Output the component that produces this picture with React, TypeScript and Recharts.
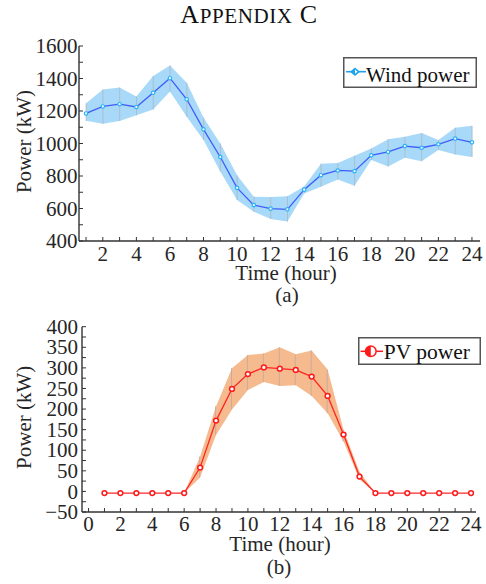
import React from 'react';
import { ComposedChart, Area, Line, Bar, XAxis, YAxis, Legend } from 'recharts';

// ---------- data ----------
const hours = [1, 2, 3, 4, 5, 6, 7, 8, 9, 10, 11, 12, 13, 14, 15, 16, 17, 18, 19, 20, 21, 22, 23, 24];
const windMean = [1185, 1228, 1242, 1225, 1312, 1402, 1272, 1087, 917, 727, 621, 599, 595, 716, 805, 834, 830, 927, 948, 984, 974, 995, 1030, 1007];
const windLow = [1140, 1122, 1138, 1174, 1210, 1320, 1165, 1021, 828, 653, 580, 535, 520, 692, 734, 778, 740, 899, 858, 912, 891, 960, 932, 917];
const windHigh = [1248, 1332, 1344, 1290, 1416, 1480, 1374, 1160, 1000, 805, 672, 671, 676, 736, 876, 880, 925, 970, 1026, 1042, 1064, 1022, 1097, 1110];

const pvMean = [-4, -4, -4, -4, -4, -4, 58, 172, 249, 285, 301, 298, 295, 279, 232, 138, 36, -4, -4, -4, -4, -4, -4, -4];
const pvLow = [-4, -4, -4, -4, -4, -4, 34, 137, 199, 246, 266, 256, 258, 232, 190, 121, 29, -4, -4, -4, -4, -4, -4, -4];
const pvHigh = [-4, -4, -4, -4, -4, -4, 85, 207, 299, 331, 335, 350, 333, 342, 296, 150, 48, -4, -4, -4, -4, -4, -4, -4];

const windYTicks = [400, 500, 600, 700, 800, 900, 1000, 1100, 1200, 1300, 1400, 1500, 1600];
const windXTicks = hours;
const pvYTicks = [-50, -25, 0, 25, 50, 75, 100, 125, 150, 175, 200, 225, 250, 275, 300, 325, 350, 375, 400];
const pvXTicks = [0, 1, 2, 3, 4, 5, 6, 7, 8, 9, 10, 11, 12, 13, 14, 15, 16, 17, 18, 19, 20, 21, 22, 23, 24];

const windData = hours.map((h, i) => ({ hour: h, mean: windMean[i], band: [windLow[i], windHigh[i]] }));
const pvData = hours.map((h, i) => ({ hour: h, mean: pvMean[i], band: [pvLow[i], pvHigh[i]] }));

// ---------- styles ----------
const FONT = "'Liberation Serif', 'Times New Roman', serif";
const TEXT = '#262626';
const AXIS = '#333333';
const FS = 21;

const fmt = (v: number) => (v < 0 ? '\u2212' + Math.abs(v) : String(v));

const YTick = (props: any) => {
  const { x, y, payload, every, gap } = props;
  const v = payload.value;
  const ax = x + gap;
  const show = Math.abs(v % every) < 1e-6;
  return (
    <g>
      <line x1={ax} x2={ax + 4} y1={y} y2={y} stroke={AXIS} strokeWidth={1} />
      {show && (
        <text x={x} y={y} dy="0.34em" textAnchor="end" fontFamily={FONT} fontSize={FS} fill={TEXT}>
          {fmt(v)}
        </text>
      )}
    </g>
  );
};

const XTick = (props: any) => {
  const { x, y, payload, every, gap } = props;
  const v = payload.value;
  const ay = y - gap;
  const show = Math.abs(v % every) < 1e-6;
  return (
    <g>
      <line x1={x} x2={x} y1={ay} y2={ay - 4} stroke={AXIS} strokeWidth={1} />
      {show && (
        <text x={x} y={y} dy="0.71em" textAnchor="middle" fontFamily={FONT} fontSize={FS} fill={TEXT}>
          {fmt(v)}
        </text>
      )}
    </g>
  );
};

const makeXLabel = (text: string, dx: number, dy: number) => (p: any) => {
  const vb = p.viewBox || { x: 0, y: 0, width: 0, height: 0 };
  return (
    <text x={vb.x + vb.width / 2 + dx} y={vb.y + dy} textAnchor="middle" fontFamily={FONT} fontSize={FS} fill={TEXT}>
      {text}
    </text>
  );
};

const makeYLabel = (text: string, bx: number, dy: number) => (p: any) => {
  const vb = p.viewBox || { x: 0, y: 0, width: 0, height: 0 };
  const cx = vb.x + bx;
  const cy = vb.y + vb.height / 2 + dy;
  return (
    <text x={cx} y={cy} transform={`rotate(-90, ${cx}, ${cy})`} textAnchor="middle" fontFamily={FONT} fontSize={FS} fill={TEXT}>
      {text}
    </text>
  );
};

const WindLegend = () => (
  <svg width={134} height={31} style={{ display: 'block' }}>
    <rect x={0.75} y={0.75} width={132.5} height={29.5} fill="#ffffff" stroke="#555555" strokeWidth={1.5} />
    <line x1={3} x2={23} y1={14.7} y2={14.7} stroke="#1ea2f0" strokeWidth={1.6} />
    <polygon points="7,14.7 12,10.5 17,14.7 12,18.9" fill="#1ea2f0" />
    <polygon points="12,12.6 14.5,14.7 12,16.8" fill="#ffffff" />
    <text x={23} y={24.7} fontFamily={FONT} fontSize={FS} fill="#111111">Wind power</text>
  </svg>
);

const PVLegend = () => (
  <svg width={123} height={28} style={{ display: 'block' }}>
    <rect x={0.75} y={0.75} width={121.5} height={26.5} fill="#ffffff" stroke="#555555" strokeWidth={1.5} />
    <line x1={2.5} x2={25} y1={14.3} y2={14.3} stroke="#ff1a1a" strokeWidth={1.5} />
    <circle cx={12.8} cy={14.3} r={5.3} fill="#ffffff" stroke="#ff1a1a" strokeWidth={1.5} />
    <path d="M12.8,9 A5.3,5.3 0 0 0 12.8,19.6 Z" fill="#ff1a1a" />
    <text x={25.8} y={21.6} fontFamily={FONT} fontSize={21.5} fill="#111111">PV power</text>
  </svg>
);

export default function App() {
  return (
    <div style={{ position: 'absolute', left: 0, top: 0, width: 486, height: 584, background: '#ffffff' }}>
      <div style={{ position: 'absolute', left: 0, top: 0 }}>
        <ComposedChart width={486} height={300} data={windData} margin={{ top: 46, right: 6, left: 0, bottom: 0 }}>
          <XAxis
            type="number"
            dataKey="hour"
            domain={[0.58, 24.48]}
            allowDataOverflow
            ticks={windXTicks}
            interval={0}
            tickSize={0}
            tickMargin={5.5}
            tick={<XTick every={2} gap={5.5} />}
            axisLine={{ stroke: AXIS, strokeWidth: 1.4 }}
            height={59}
            label={makeXLabel('Time (hour)', 6.5, 39)}
          />
          <YAxis
            type="number"
            domain={[400, 1600]}
            allowDataOverflow
            ticks={windYTicks}
            interval={0}
            tickSize={0}
            tickMargin={1.5}
            tick={<YTick every={200} gap={1.5} />}
            axisLine={{ stroke: AXIS, strokeWidth: 1.4 }}
            width={79}
            label={makeYLabel('Power (kW)', 31, -2)}
          />
          <Area dataKey="band" type="linear" stroke="none" fill="#a8d9f8" fillOpacity={1} isAnimationActive={false} activeDot={false} legendType="none" />
          <Bar dataKey="band" barSize={1} fill="#aebccb" isAnimationActive={false} legendType="none" />
          <Line
            dataKey="mean"
            type="linear"
            stroke="#3f5dfa"
            strokeWidth={1.3}
            dot={{ r: 1.7, fill: '#ffffff', stroke: '#2ab3f5', strokeWidth: 1.2 }}
            activeDot={false}
            isAnimationActive={false}
          />
          <Legend
            layout="vertical"
            align="center"
            verticalAlign="middle"
            content={() => <WindLegend />}
            wrapperStyle={{ left: 343, top: 57, width: 134, height: 31 }}
          />
        </ComposedChart>
      </div>
      <div style={{ position: 'absolute', left: 0, top: 300 }}>
        <ComposedChart width={486} height={284} data={pvData} margin={{ top: 26.7, right: 10, left: 0, bottom: 0 }}>
          <XAxis
            type="number"
            dataKey="hour"
            domain={[-0.41, 24.31]}
            allowDataOverflow
            ticks={pvXTicks}
            interval={0}
            tickSize={0}
            tickMargin={4}
            tick={<XTick every={2} gap={4} />}
            axisLine={{ stroke: AXIS, strokeWidth: 1.4 }}
            height={72}
            label={makeXLabel('Time (hour)', 1, 39)}
          />
          <YAxis
            type="number"
            domain={[-50, 400]}
            allowDataOverflow
            ticks={pvYTicks}
            interval={0}
            tickSize={0}
            tickMargin={4}
            tick={<YTick every={50} gap={4} />}
            axisLine={{ stroke: AXIS, strokeWidth: 1.4 }}
            width={82}
            label={makeYLabel('Power (kW)', 31, -2)}
          />
          <Area dataKey="band" type="linear" stroke="none" fill="#f5ba8d" fillOpacity={1} isAnimationActive={false} activeDot={false} legendType="none" />
          <Bar dataKey="band" barSize={1} fill="#c9ada0" isAnimationActive={false} legendType="none" />
          <Line
            dataKey="mean"
            type="linear"
            stroke="#ff2626"
            strokeWidth={1.3}
            dot={{ r: 2.4, fill: '#ffffff', stroke: '#ff1a1a', strokeWidth: 1.5 }}
            activeDot={false}
            isAnimationActive={false}
          />
          <Legend
            layout="vertical"
            align="center"
            verticalAlign="middle"
            content={() => <PVLegend />}
            wrapperStyle={{ left: 357.5, top: 36.7, width: 123, height: 28 }}
          />
        </ComposedChart>
      </div>
      <svg width={486} height={584} style={{ position: 'absolute', left: 0, top: 0, pointerEvents: 'none' }}>
        <text x={249} y={22.7} textAnchor="middle" fontFamily={FONT} fill="#111111" letterSpacing={0.6}>
          <tspan fontSize={26}>A</tspan>
          <tspan fontSize={21}>PPENDIX</tspan>
          <tspan fontSize={26}> C</tspan>
        </text>
        <text x={287} y={301.5} textAnchor="middle" fontFamily={FONT} fontSize={FS} fill={TEXT}>(a)</text>
        <text x={279} y={573.5} textAnchor="middle" fontFamily={FONT} fontSize={FS} fill={TEXT}>(b)</text>
      </svg>
    </div>
  );
}
